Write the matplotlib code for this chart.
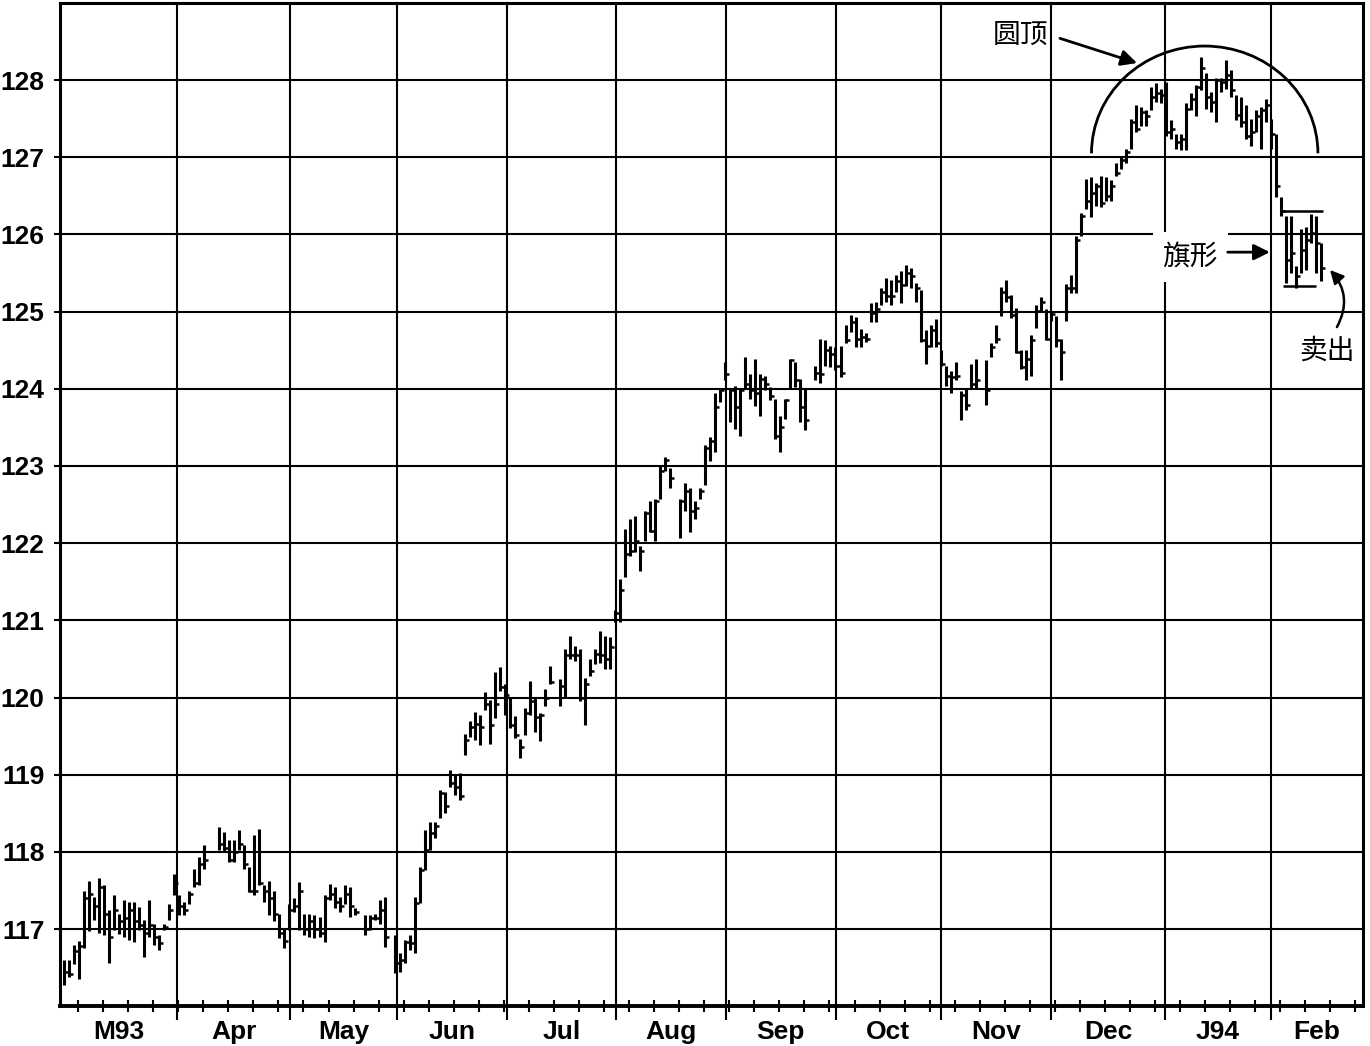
import numpy as np
import matplotlib.pyplot as plt
from matplotlib.patches import Arc

plt.rcParams['font.family'] = ['Liberation Sans', 'Noto Sans CJK SC']

nan = np.nan

months = ["M93", "Apr", "May", "Jun", "Jul", "Aug", "Sep", "Oct", "Nov", "Dec", "J94", "Feb"]
# bar index where each new month begins (grid line position)
month_edges = [22.6, 45.1, 66.5, 88.4, 110.2, 132.1, 154.1, 175.0, 197.0, 219.8, 240.9]
price_ticks = list(range(117, 129))

# daily bars, Mar 1993 - Feb 1994 (nan = no trading shown)
highs = [
    # Mar
    116.60, 116.60, 116.80, 116.85, 117.50, 117.63, 117.42, 117.66, 117.57, 117.25, 117.44, 117.20,
    117.38, 117.35, 117.35, 117.29, 117.12, 117.38, 117.07, 116.92, 117.07, 117.33, 117.72,
    # Apr
    117.44, 117.35, 117.50, 117.78, 117.94, 118.09, nan, nan, 118.32, 118.26, 118.15, 118.15,
    118.28, 118.09, 117.80, 118.22, 118.30, 117.57, 117.63, 117.50, 117.20, 117.00,
    # May
    117.33, 117.40, 117.61, 117.20, 117.20, 117.18, 117.16, 117.44, 117.59, 117.55, 117.42, 117.57,
    117.55, 117.27, nan, 117.18, 117.18, 117.20, 117.38, 117.42, nan, 116.92,
    # Jun
    116.69, 116.86, 116.93, 117.42, 117.81, 118.28, 118.39, 118.39, 118.80, 118.78, 119.06, 119.00,
    119.02, 119.53, 119.70, 119.81, 119.77, 120.07, 119.97, 120.33, 120.40, 120.18,
    # Jul
    120.00, 119.76, 119.46, 119.87, 120.22, 120.00, 119.80, 120.11, 120.41, nan, 120.24, 120.63,
    120.80, 120.67, 120.63, 120.26, 120.50, 120.63, 120.86, 120.80, 120.78, 121.13,
    # Aug
    121.54, 122.18, 122.31, 122.35, 121.97, 122.42, 122.55, 122.57, 123.00, 123.12, 122.97, nan,
    122.57, 122.78, 122.72, 122.55, 122.72, 123.27, 123.37, 123.94, 124.00, 124.35,
    # Sep
    124.00, 124.04, 124.00, 124.41, 124.19, 124.39, 124.19, 124.17, 124.02, 123.87, 123.65, 123.87,
    124.39, 124.35, 124.13, 124.00, nan, 124.30, 124.65, 124.63, 124.56, 124.54,
    # Oct
    124.56, 124.83, 124.96, 124.93, 124.78, 124.72, 125.11, 125.13, 125.31, 125.44, 125.41, 125.48,
    125.52, 125.61, 125.57, 125.37, 125.28, 124.76, 124.83, 124.91,
    # Nov
    124.50, 124.30, 124.23, 124.35, 123.97, 124.01, 124.32, 124.39, nan, 124.37, 124.59, 124.83,
    125.32, 125.41, 125.21, 125.05, 124.50, 124.50, 124.70, 125.08, 125.19, 125.03,
    # Dec
    125.01, 124.94, 124.65, 125.36, 125.47, 125.98, 126.28, 126.72, 126.74, 126.67, 126.76, 126.74,
    126.70, 126.93, 127.02, 127.11, 127.50, 127.67, 127.65, 127.61, 127.91, 127.96, 127.89,
    # Jan
    127.98, 127.48, 127.30, 127.30, 127.70, 127.83, 127.93, 128.30, 128.09, 127.85, 128.02, 128.02,
    128.26, 128.13, 127.80, 127.78, 127.67, 127.50, 127.61, 127.65, 127.76,
    # Feb
    127.50, 127.30, 126.48, 126.24, 126.24, 125.59, 126.07, 126.09, 126.26, 126.24, 125.89,
]
lows = [
    116.28, 116.38, 116.55, 116.36, 116.75, 116.97, 117.12, 116.95, 116.92, 116.56, 116.99, 116.94,
    116.90, 116.86, 116.84, 116.99, 116.64, 116.90, 116.79, 116.73, 116.99, 117.12, 117.44,
    117.18, 117.18, 117.33, 117.55, 117.57, 117.78, nan, nan, 118.02, 118.00, 117.87, 117.87,
    118.02, 117.78, 117.48, 117.44, 117.57, 117.35, 117.18, 117.10, 116.88, 116.75,
    116.99, 117.22, 116.99, 116.92, 116.90, 116.88, 116.90, 116.84, 117.38, 117.27, 117.22, 117.33,
    117.16, 117.18, nan, 116.92, 116.99, 117.12, 117.07, 116.77, nan, 116.43,
    116.45, 116.56, 116.73, 116.69, 117.34, 117.77, 118.03, 118.18, 118.44, 118.50, 118.84, 118.74,
    118.67, 119.25, 119.49, 119.45, 119.38, 119.84, 119.40, 119.73, 120.09, 119.77,
    119.61, 119.48, 119.22, 119.52, 119.78, 119.55, 119.44, 119.89, 120.17, nan, 119.89, 120.00,
    120.50, 120.47, 119.96, 119.65, 120.28, 120.43, 120.45, 120.37, 120.37, 120.98,
    120.98, 121.56, 121.84, 121.88, 121.64, 122.03, 122.14, 122.03, 122.57, 122.93, 122.72, nan,
    122.07, 122.42, 122.14, 122.31, 122.57, 122.76, 123.07, 123.18, 123.83, 124.11,
    123.57, 123.48, 123.39, 124.00, 123.87, 123.78, 123.65, 123.98, 123.85, 123.35, 123.18, 123.61,
    124.00, 124.02, 123.57, 123.46, nan, 124.11, 124.08, 124.30, 124.28, 124.24,
    124.15, 124.59, 124.74, 124.54, 124.54, 124.61, 124.87, 124.87, 125.09, 125.13, 125.09, 125.26,
    125.11, 125.33, 125.31, 125.13, 124.61, 124.32, 124.54, 124.54,
    124.30, 124.04, 123.95, 124.12, 123.59, 123.73, 124.01, 124.01, nan, 123.79, 124.41, 124.59,
    124.94, 125.12, 124.92, 124.46, 124.26, 124.12, 124.17, 124.79, 124.99, 124.63,
    124.88, 124.54, 124.12, 124.88, 125.24, 125.24, 125.98, 126.33, 126.22, 126.37, 126.35, 126.43,
    126.43, 126.76, 126.85, 126.93, 127.11, 127.33, 127.41, 127.41, 127.61, 127.72, 127.70,
    127.28, 127.24, 127.11, 127.09, 127.09, 127.61, 127.54, 127.87, 127.63, 127.59, 127.46, 127.85,
    127.89, 127.78, 127.48, 127.39, 127.24, 127.15, 127.33, 127.11, 127.46,
    127.11, 126.48, 126.24, 125.37, 125.50, 125.30, 125.50, 125.54, 125.89, 125.50, 125.39,
]
closes = [
    116.45, 116.42, 116.72, 116.78, 117.40, 117.45, 117.30, 117.55, 117.20, 116.90, 117.25, 117.10,
    117.15, 117.25, 117.10, 117.05, 116.95, 117.05, 116.90, 116.82, 117.03, 117.25, 117.60,
    117.30, 117.25, 117.45, 117.60, 117.85, 117.90, nan, nan, 118.10, 118.05, 117.90, 118.00,
    118.10, 117.85, 117.50, 117.50, 117.60, 117.50, 117.40, 117.20, 116.95, 116.85,
    117.25, 117.30, 117.50, 117.00, 117.10, 117.00, 116.95, 117.40, 117.45, 117.35, 117.30, 117.45,
    117.30, 117.22, nan, 117.00, 117.15, 117.15, 117.25, 116.90, nan, 116.56,
    116.60, 116.84, 116.82, 117.34, 117.77, 118.03, 118.24, 118.33, 118.76, 118.59, 118.89, 118.84,
    118.72, 119.45, 119.62, 119.66, 119.62, 119.92, 119.64, 119.92, 120.14, 120.03,
    119.65, 119.52, 119.36, 119.80, 119.95, 119.75, 119.78, 120.00, 120.20, nan, 120.15, 120.55,
    120.55, 120.55, 120.00, 120.18, 120.35, 120.57, 120.55, 120.50, 120.66, 121.10,
    121.39, 121.86, 121.90, 122.03, 121.90, 122.39, 122.16, 122.55, 122.93, 123.08, 122.85, nan,
    122.55, 122.67, 122.42, 122.46, 122.67, 123.23, 123.33, 123.76, 123.98, 124.19,
    123.98, 123.76, 123.98, 124.06, 123.98, 123.94, 124.13, 124.06, 123.91, 123.39, 123.50, 123.85,
    124.37, 124.11, 123.76, 123.59, nan, 124.21, 124.19, 124.50, 124.45, 124.30,
    124.21, 124.63, 124.87, 124.65, 124.67, 124.65, 124.98, 125.04, 125.26, 125.20, 125.20, 125.39,
    125.35, 125.50, 125.46, 125.31, 124.63, 124.56, 124.76, 124.59,
    124.32, 124.17, 124.15, 124.17, 123.92, 123.79, 124.06, 124.12, nan, 123.99, 124.54, 124.65,
    125.25, 125.19, 124.96, 124.48, 124.28, 124.39, 124.63, 125.01, 125.12, 124.65,
    124.97, 124.63, 124.48, 125.30, 125.30, 125.93, 126.24, 126.43, 126.54, 126.63, 126.41, 126.50,
    126.63, 126.80, 126.96, 127.07, 127.46, 127.37, 127.59, 127.54, 127.78, 127.83, 127.80,
    127.33, 127.37, 127.20, 127.24, 127.63, 127.76, 127.91, 128.15, 127.78, 127.72, 128.00, 127.98,
    128.07, 127.87, 127.55, 127.46, 127.28, 127.33, 127.54, 127.61, 127.67,
    127.30, 126.63, 126.30, 125.67, 125.76, 125.46, 125.80, 125.93, 126.02, 125.89, 125.57,
]

# flag boundaries (price level, start bar, end bar)
flag_top = (126.30, 243.1, 251.3)
flag_bottom = (125.33, 243.3, 249.9)

highs = np.array(highs)
lows = np.array(lows)
closes = np.array(closes)
x = np.arange(len(highs))
ok = ~np.isnan(highs)

fig = plt.figure(figsize=(13.7, 10.46), dpi=100)
ax = fig.add_axes([0.0438, 0.0379, 0.9511, 0.9594])

ax.vlines(x[ok], lows[ok], highs[ok], color='black', lw=2.2, zorder=2)
ax.hlines(closes[ok], x[ok], x[ok] + 0.8, color='black', lw=1.8, zorder=2)

ax.set_xlim(-0.8, 259.3)
ax.set_ylim(116, 129)

# grid
ax.set_yticks(price_ticks)
ax.set_yticklabels([str(v) for v in price_ticks], fontsize=19, fontweight='bold')
ax.set_xticks(month_edges)
ax.set_xticklabels([])
ax.set_xticks(np.arange(2.8, 259, 5), minor=True)
ax.grid(True, which='major', color='black', lw=1.5, zorder=0)
ax.tick_params(axis='y', direction='out', length=4, width=1.5, pad=7)
ax.tick_params(axis='x', which='major', direction='out', length=10, width=1.5)
ax.tick_params(axis='x', which='minor', direction='inout', length=9, width=1.5)
ax.tick_params(top=False, right=False)
for side in ['left', 'right', 'top']:
    ax.spines[side].set_linewidth(2.2)
ax.spines['bottom'].set_linewidth(2.8)
for sp in ax.spines.values():
    sp.set_zorder(6)

bounds = [-0.8] + month_edges + [259.3]
for i, m in enumerate(months):
    mid = (bounds[i] + bounds[i + 1]) / 2
    ax.text(mid, -0.014, m, transform=ax.get_xaxis_transform(), ha='center', va='top',
            fontsize=19, fontweight='bold')

# rounding top
ax.add_patch(Arc((227.7, 127.05), 45.2, 2.78, theta1=0, theta2=180, color='black', lw=2, zorder=3))

# flag lines
ax.hlines([flag_top[0], flag_bottom[0]], [flag_top[1], flag_bottom[1]], [flag_top[2], flag_bottom[2]],
          color='black', lw=1.8, zorder=2)

cjk = ['Noto Sans CJK SC', 'DejaVu Sans']
box = dict(boxstyle='square,pad=0.35', fc='white', ec='none')
ax.text(191.0, 128.58, "圆顶", family=cjk, fontsize=20, ha='center', va='center', zorder=4)
ax.annotate("", xy=(214.2, 128.22), xytext=(198.8, 128.54),
            arrowprops=dict(arrowstyle='-|>', color='black', lw=2, mutation_scale=24,
                            shrinkA=0, shrinkB=0), zorder=5)
ax.text(224.8, 125.71, "旗形", family=cjk, fontsize=20, ha='center', va='center', bbox=box, zorder=4)
ax.annotate("", xy=(240.7, 125.77), xytext=(232.3, 125.77),
            arrowprops=dict(arrowstyle='-|>', color='black', lw=2, mutation_scale=24,
                            shrinkA=0, shrinkB=0), zorder=5)
ax.text(252.1, 124.49, "卖出", family=cjk, fontsize=20, ha='center', va='center', bbox=box, zorder=4)
ax.annotate("", xy=(252.7, 125.54), xytext=(254.1, 124.80),
            arrowprops=dict(arrowstyle='-|>', color='black', lw=1.8, mutation_scale=20,
                            shrinkA=0, shrinkB=0, connectionstyle='arc3,rad=0.35'), zorder=5)

fig.savefig('out.png', dpi=100)
